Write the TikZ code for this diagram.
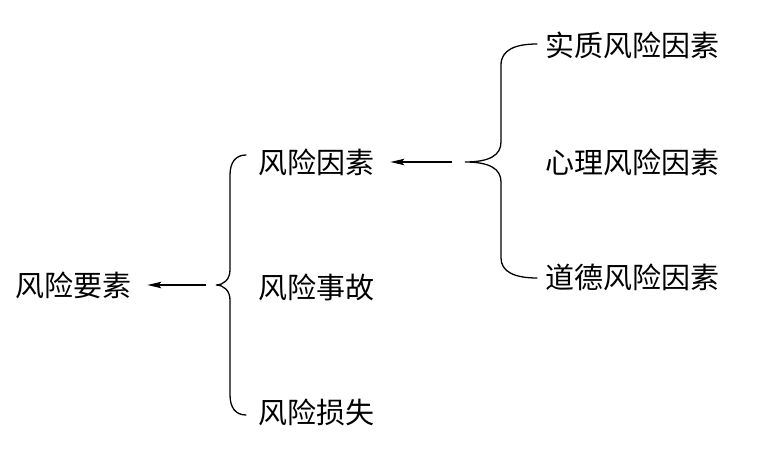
\documentclass[tikz,border=0pt]{standalone}
\usepackage{fontspec}
\setmainfont{Noto Sans CJK SC}
\usetikzlibrary{arrows.meta}
\begin{document}
\begin{tikzpicture}[x=1pt,y=-1pt,
  lbl/.style={anchor=west,inner sep=0pt,font=\fontsize{29}{31}\selectfont},
  brace/.style={line width=1.3pt,line cap=round},
  arr/.style={line width=1.1pt,-{Stealth[length=14pt,width=6.5pt,inset=3pt]}}]
\useasboundingbox (0,0) rectangle (775,454);
% nodes
\node[lbl] (n0) at (15,285) {风险要素};
\node[lbl] (a1) at (258,162) {风险因素};
\node[lbl] (a2) at (258,287) {风险事故};
\node[lbl] (a3) at (258,412) {风险损失};
\node[lbl] (b1) at (545,45) {实质风险因素};
\node[lbl] (b2) at (545,162) {心理风险因素};
\node[lbl] (b3) at (545,277) {道德风险因素};
% left brace
\coordinate (l1) at (246,155);
\coordinate (ltip) at (216,285);
\coordinate (l3) at (246,415);
\draw[brace] (l1) .. controls (236,155) and (230,162) .. (230,175)
  -- (230,270) .. controls (230,279) and (224,285) .. (ltip)
  .. controls (224,285) and (230,291) .. (230,300)
  -- (230,395) .. controls (230,408) and (236,415) .. (l3);
% right brace
\coordinate (r1) at (537,44);
\coordinate (rtip) at (465,162);
\coordinate (r3) at (537,278);
\draw[brace] (r1) .. controls (515,44) and (501,50) .. (501,65)
  -- (501,142) .. controls (501,155) and (490,162) .. (rtip)
  .. controls (490,162) and (501,169) .. (501,182)
  -- (501,258) .. controls (501,272) and (515,278) .. (r3);
% arrows
\coordinate (s1) at (206,285);
\coordinate (s2) at (452,162);
\draw[arr,shorten >=16pt] (s1) -- (n0.east |- s1);
\draw[arr,shorten >=16pt] (s2) -- (a1.east |- s2);
\end{tikzpicture}
\end{document}
